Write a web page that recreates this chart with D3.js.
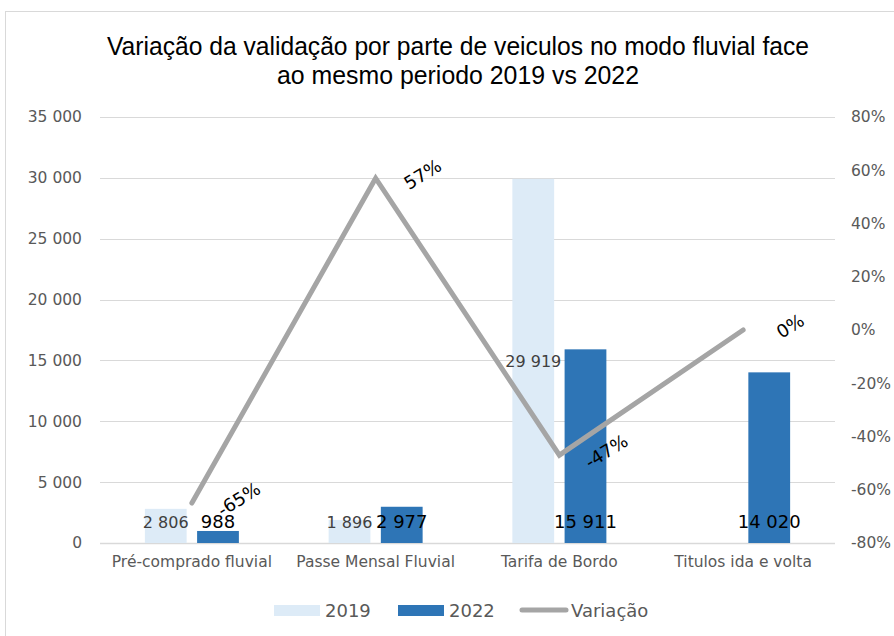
<!DOCTYPE html>
<html>
<head>
<meta charset="utf-8">
<script src="https://cdn.jsdelivr.net/npm/d3@7"></script>
<style>
  body { margin: 0; background: #fff; }
  svg text { font-family: "DejaVu Sans", "Liberation Sans", Arial, sans-serif; }
  svg .title text { font-family: "Liberation Sans Narrow", "Liberation Sans", Arial, sans-serif; }
</style>
</head>
<body>
<div id="chart"></div>
<script>
// data
const categories = ["Pré-comprado fluvial", "Passe Mensal Fluvial", "Tarifa de Bordo", "Titulos ida e volta"];
const values2019 = [2806, 1896, 29919, null];
const values2022 = [988, 2977, 15911, 14020];
const variacao = [-0.65, 0.57, -0.47, 0];
const leftTicks = [0, 5000, 10000, 15000, 20000, 25000, 30000, 35000];
const rightTicks = [-0.8, -0.6, -0.4, -0.2, 0, 0.2, 0.4, 0.6, 0.8];
const titleLines = ["Variação da validação por parte de veiculos no modo fluvial face", "ao mesmo periodo 2019 vs 2022"];

const W = 894, H = 636;
const plot = {left: 100, right: 835, top: 117, bottom: 543};

const svg = d3.select("#chart").append("svg").attr("width", W).attr("height", H);

// chart border
svg.append("rect").attr("x", 5.5).attr("y", 11.5).attr("width", W - 5).attr("height", H)
  .attr("fill", "none").attr("stroke", "#d9d9d9");

// title
const title = svg.append("g").attr("class", "title");
titleLines.forEach((t, i) => {
  title.append("text").attr("x", 458).attr("y", 55 + i * 29)
    .attr("text-anchor", "middle").attr("font-size", 25).attr("fill", "#000")
    .attr("textLength", i === 0 ? 702 : 362).attr("lengthAdjust", "spacingAndGlyphs")
    .text(t);
});

// scales
const x = d3.scaleBand().domain(categories).range([plot.left, plot.right]);
const y = d3.scaleLinear().domain([0, 35000]).range([plot.bottom, plot.top]);
const y2 = d3.scaleLinear().domain([-0.8, 0.8]).range([plot.bottom, plot.top]);
const fmtNum = v => d3.format(",")(v).replace(/,/g, " ");
const fmtPct = v => d3.format(".0%")(v).replace("\u2212", "-");

// gridlines
svg.append("g").selectAll("line").data(leftTicks).join("line")
  .attr("x1", plot.left).attr("x2", plot.right)
  .attr("y1", d => Math.round(y(d)) + 0.5).attr("y2", d => Math.round(y(d)) + 0.5)
  .attr("stroke", "#d9d9d9").attr("stroke-width", d => d === 0 ? 1.5 : 1);

// left axis
const leftAxis = svg.append("g").attr("transform", `translate(${plot.left - 18},0)`)
  .call(d3.axisLeft(y).tickValues(leftTicks).tickFormat(fmtNum).tickSize(0).tickPadding(0));
leftAxis.select(".domain").remove();
leftAxis.selectAll("text").attr("font-size", 15.5).attr("fill", "#595959")
  .attr("font-family", null);

// right axis
const rightAxis = svg.append("g").attr("transform", `translate(${plot.right + 16},0)`)
  .call(d3.axisRight(y2).tickValues(rightTicks).tickFormat(fmtPct).tickSize(0).tickPadding(0));
rightAxis.select(".domain").remove();
rightAxis.selectAll("text").attr("font-size", 15.5).attr("fill", "#595959")
  .attr("font-family", null);

// category labels
const xAxis = svg.append("g").attr("transform", `translate(0,${plot.bottom + 8})`)
  .call(d3.axisBottom(x).tickSize(0).tickPadding(0));
xAxis.select(".domain").remove();
xAxis.selectAll("text").attr("font-size", 15.5).attr("fill", "#595959").attr("dy", "1em")
  .attr("font-family", null);

// bars
const xs = d3.scaleBand().domain(["2019", "2022"])
  .range([x.bandwidth() / 2 - 47, x.bandwidth() / 2 + 47]).paddingInner(0.2);
const series = [
  {key: "2019", values: values2019, color: "#ddebf7"},
  {key: "2022", values: values2022, color: "#2e75b6"}
];
series.forEach(s => {
  const data = categories.map((c, i) => ({c, v: s.values[i]})).filter(d => d.v != null);
  svg.append("g").selectAll("rect").data(data).join("rect")
    .attr("x", d => x(d.c) + xs(s.key)).attr("width", xs.bandwidth())
    .attr("y", d => y(d.v)).attr("height", d => y(0) - y(d.v))
    .attr("fill", s.color);
});

// line
const pts = categories.map((c, i) => [x(c) + x.bandwidth() / 2, y2(variacao[i])]);
svg.append("path").datum(pts).attr("d", d3.line())
  .attr("fill", "none").attr("stroke", "#a5a5a5").attr("stroke-width", 5)
  .attr("stroke-linecap", "round").attr("stroke-linejoin", "miter");

// bar labels: 2019 centred, 2022 inside base
const lab19 = categories.map((c, i) => ({c, v: values2019[i]})).filter(d => d.v != null);
svg.append("g").selectAll("text").data(lab19).join("text")
  .attr("x", d => x(d.c) + xs("2019") + xs.bandwidth() / 2)
  .attr("y", d => Math.min((y(d.v) + y(0)) / 2, y(0) - 21) + 6)
  .attr("text-anchor", "middle").attr("font-size", 16).attr("fill", "#404040")
  .text(d => fmtNum(d.v));
const lab22 = categories.map((c, i) => ({c, v: values2022[i]}));
svg.append("g").selectAll("text").data(lab22).join("text")
  .attr("x", d => x(d.c) + xs("2022") + xs.bandwidth() / 2)
  .attr("y", y(0) - 15)
  .attr("text-anchor", "middle").attr("font-size", 18).attr("fill", "#000")
  .text(d => fmtNum(d.v));

// line labels (rotated)
svg.append("g").selectAll("text").data(pts).join("text")
  .attr("transform", d => `translate(${d[0] + 47},${d[1] - 4}) rotate(-32)`)
  .attr("text-anchor", "middle").attr("dominant-baseline", "central")
  .attr("font-size", 18).attr("fill", "#000")
  .text((d, i) => fmtPct(variacao[i]));

// legend
const legend = svg.append("g").attr("transform", "translate(0,610)");
const items = [
  {label: "2019", type: "rect", color: "#ddebf7", x: 274},
  {label: "2022", type: "rect", color: "#2e75b6", x: 398},
  {label: "Variação", type: "line", color: "#a5a5a5", x: 520}
];
items.forEach(it => {
  if (it.type === "rect") {
    legend.append("rect").attr("x", it.x).attr("y", -5).attr("width", 46).attr("height", 11).attr("fill", it.color);
  } else {
    legend.append("line").attr("x1", it.x + 2).attr("x2", it.x + 46).attr("y1", 0).attr("y2", 0)
      .attr("stroke", it.color).attr("stroke-width", 5).attr("stroke-linecap", "round");
  }
  legend.append("text").attr("x", it.x + 51).attr("y", 7).attr("font-size", 18).attr("fill", "#595959").text(it.label);
});
</script>
</body>
</html>
